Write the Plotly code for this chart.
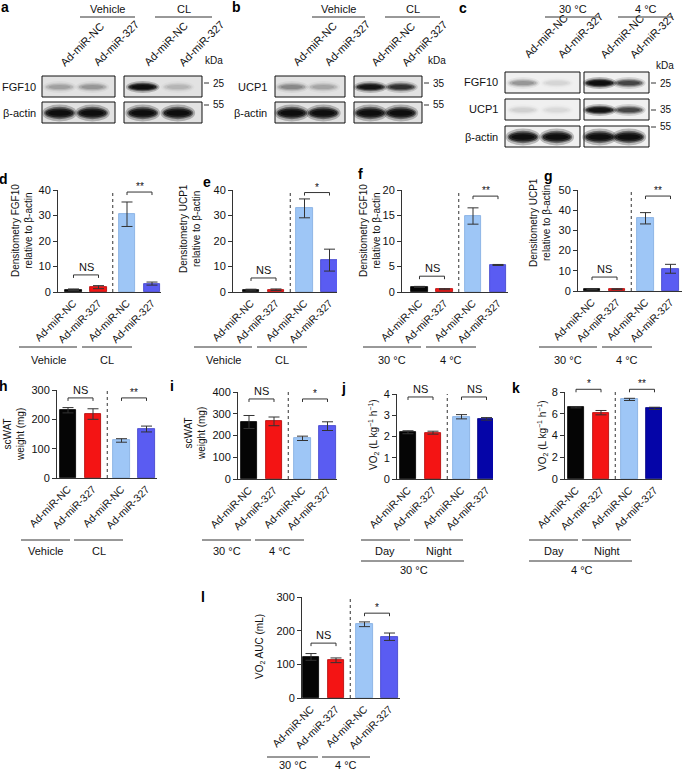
import plotly.graph_objects as go

W, H = 685, 771
FONT = "Liberation Sans, Arial, sans-serif"
INK = "#222222"

# ---------------- data ----------------
BAR_LABELS = ["Ad-miR-NC", "Ad-miR-327", "Ad-miR-NC", "Ad-miR-327"]

d_values = [0.9, 1.9, 30.5, 3.3]
d_errors = [0.3, 0.6, 4.8, 0.6]
e_values = [0.8, 0.9, 32.8, 12.5]
e_errors = [0.3, 0.3, 3.7, 4.3]
f_values = [1.0, 0.55, 14.9, 5.3]
f_errors = [0.1, 0.1, 1.6, 0.1]
g_values = [0.9, 0.9, 36.0, 11.0]
g_errors = [0.2, 0.2, 2.8, 2.2]
h_values = [231, 218, 128, 167]
h_errors = [9, 18, 6, 10]
i_values = [262, 265, 187, 243]
i_errors = [30, 20, 10, 20]
j_values = [2.20, 2.18, 2.93, 2.83]
j_errors = [0.07, 0.07, 0.10, 0.06]
k_values = [6.60, 6.10, 7.32, 6.50]
k_errors = [0.06, 0.20, 0.10, 0.10]
l_values = [122, 112, 219, 182]
l_errors = [10, 7, 7, 11]

# significance: (label for groups 1, y), (label for groups 2, y)
d_sig = [("NS", 6.7), ("**", 39.2)]
e_sig = [("NS", 5.5), ("*", 39.0)]
f_sig = [("NS", 3.1), ("**", 18.8)]
g_sig = [("NS", 6.9), ("**", 47.0)]
h_sig = [("NS", 273), ("**", 273)]
i_sig = [("NS", 368), ("*", 368)]
j_sig = [("NS", 3.86), ("NS", 3.86)]
k_sig = [("*", 8.25), ("**", 8.25)]
l_sig = [("NS", 163), ("*", 252)]

VEH_CL = ["Vehicle", "CL"]
TEMPS = ["30 °C", "4 °C"]
DAY_NIGHT = ["Day", "Night"]

# western blots: row names, band intensities (0..1) per lane, kDa markers
a_rows = ["FGF10", "β-actin"]
a_bands = [[0.15, 0.18, 0.95, 0.10], [0.97, 0.97, 0.98, 0.97]]
a_kda = ["25", "55"]
b_rows = ["UCP1", "β-actin"]
b_bands = [[0.22, 0.14, 0.85, 0.6], [0.97, 0.97, 0.97, 0.97]]
b_kda = ["35", "55"]
c_rows = ["FGF10", "UCP1", "β-actin"]
c_bands = [[0.20, 0.05, 0.97, 0.5], [0.06, 0.04, 0.9, 0.5], [0.96, 0.96, 0.96, 0.96]]
c_kda = ["25", "35", "55"]

# ---------------- styling ----------------
BLACK, RED, LIGHT, BLUE, NAVY = "#050505", "#f41414", "#9ec6f6", "#5a5cf2", "#0505a8"
COL_STD = [BLACK, RED, LIGHT, BLUE]
COL_NAVY = [BLACK, RED, LIGHT, NAVY]
EDGE_STD = ["#000000", "#b00000", "#7fa9e0", "#3c3ec8"]
EDGE_NAVY = ["#000000", "#b00000", "#7fa9e0", "#000080"]
X_POS = [0, 1, 2.14, 3.14]
UNIT = 25.0  # px per x unit
BAR_W = 0.66


def PX(x):
    return x / W


def PY(y):
    return 1 - y / H


VO2 = "VO<sub>2</sub> (L kg<sup>−1</sup> h<sup>−1</sup>)"

PANELS = [
    dict(L="d", v=d_values, e=d_errors, c=COL_STD, ec=EDGE_STD, ymax=40, dt=10, sig=d_sig, grp=VEH_CL, top=None,
         title="Densitometry FGF10<br>relative to β-actin", tpos=(22, 231),
         x0=58, w=103, yt=190, yb=292, xlo=-0.62, row=1, lpos=(4, 179)),
    dict(L="e", v=e_values, e=e_errors, c=COL_STD, ec=EDGE_STD, ymax=40, dt=10, sig=e_sig, grp=VEH_CL, top=None,
         title="Densitometry UCP1<br>relative to β-actin", tpos=(190, 229),
         x0=233, w=104, yt=190, yb=292, xlo=-0.72, row=1, lpos=(207, 182)),
    dict(L="f", v=f_values, e=f_errors, c=COL_STD, ec=EDGE_STD, ymax=20, dt=5, sig=f_sig, grp=TEMPS, top=None,
         title="Densitometry FGF10<br>relative to β-actin", tpos=(370, 231),
         x0=402, w=106, yt=190, yb=292, xlo=-0.70, row=1, lpos=(360, 174)),
    dict(L="g", v=g_values, e=g_errors, c=COL_STD, ec=EDGE_STD, ymax=50, dt=10, sig=g_sig, grp=TEMPS, top=None,
         title="Densitometry UCP1<br>relative to β-actin", tpos=(540, 223),
         x0=578, w=104, yt=190, yb=291, xlo=-0.56, row=1, lpos=(548, 176)),
    dict(L="h", v=h_values, e=h_errors, c=COL_STD, ec=EDGE_STD, ymax=300, dt=100, sig=h_sig, grp=VEH_CL, top=None,
         title="scWAT<br>weight (mg)", tpos=(14, 435),
         x0=57, w=100, yt=390, yb=478, xlo=-0.44, row=2, lpos=(4, 386)),
    dict(L="i", v=i_values, e=i_errors, c=COL_STD, ec=EDGE_STD, ymax=400, dt=100, sig=i_sig, grp=TEMPS, top=None,
         title="scWAT<br>weight (mg)", tpos=(195, 434),
         x0=238, w=99, yt=392, yb=479, xlo=-0.44, row=2, lpos=(172, 386)),
    dict(L="j", v=j_values, e=j_errors, c=COL_NAVY, ec=EDGE_NAVY, ymax=4, dt=1, sig=j_sig, grp=DAY_NIGHT, top=TEMPS[0],
         title=VO2, tpos=(373, 435),
         x0=397, w=96, yt=394, yb=479, xlo=-0.44, row=2, lpos=(343, 388)),
    dict(L="k", v=k_values, e=k_errors, c=COL_NAVY, ec=EDGE_NAVY, ymax=8, dt=2, sig=k_sig, grp=DAY_NIGHT, top=TEMPS[1],
         title=VO2, tpos=(542, 436),
         x0=565, w=97, yt=392, yb=479, xlo=-0.44, row=2, lpos=(516, 388)),
    dict(L="l", v=l_values, e=l_errors, c=COL_STD, ec=EDGE_STD, ymax=300, dt=100, sig=l_sig, grp=TEMPS, top=None,
         title="VO<sub>2</sub> AUC (mL)", tpos=(260, 647),
         x0=302, w=98, yt=597, yb=698, xlo=-0.36, row=3, lpos=(203, 597)),
]

fig = go.Figure()
shapes, annos = [], []
layout = {}


def line_px(x0, y0, x1, y1, color=INK, width=1):
    shapes.append(dict(type="line", xref="paper", yref="paper", x0=PX(x0), y0=PY(y0),
                       x1=PX(x1), y1=PY(y1), line=dict(color=color, width=width)))


def text_px(x, y, t, size=10, xanchor="center", yanchor="middle", angle=0, bold=False, color="#111"):
    annos.append(dict(xref="paper", yref="paper", x=PX(x), y=PY(y), text=("<b>%s</b>" % t) if bold else t,
                      showarrow=False, xanchor=xanchor, yanchor=yanchor, textangle=angle,
                      font=dict(family=FONT, size=size, color=color)))


for n, p in enumerate(PANELS, start=1):
    s = "" if n == 1 else str(n)
    xlo = p["xlo"]
    xhi = xlo + p["w"] / UNIT
    fig.add_trace(go.Bar(
        x=X_POS, y=p["v"], width=BAR_W, xaxis="x" + s, yaxis="y" + s, showlegend=False,
        marker=dict(color=p["c"], line=dict(width=0.8, color=p["ec"])),
        error_y=dict(type="data", array=p["e"], color="#333", thickness=1, width=5.5),
    ))
    layout["xaxis" + s] = dict(
        domain=[PX(p["x0"]), PX(p["x0"] + p["w"])], range=[xlo, xhi], anchor="y" + s,
        showline=True, linecolor="#333", linewidth=1, ticks="", showgrid=False, zeroline=False,
        tickmode="array", tickvals=X_POS, ticktext=BAR_LABELS, tickangle=-45,
        tickfont=dict(family=FONT, size=10.5, color="#111"), automargin=False, fixedrange=True)
    layout["yaxis" + s] = dict(
        domain=[PY(p["yb"]), PY(p["yt"])], range=[0, p["ymax"]], dtick=p["dt"], anchor="x" + s,
        showline=True, linecolor="#333", linewidth=1, ticks="outside", ticklen=4, tickwidth=1,
        tickcolor="#333", showgrid=False, zeroline=False,
        tickfont=dict(family=FONT, size=11, color="#111"), automargin=False, fixedrange=True)

    def dx(v):
        return (v - xlo) / (xhi - xlo)

    # dotted separator between the two groups
    mid = (X_POS[1] + X_POS[2]) / 2
    shapes.append(dict(type="line", xref="x%s domain" % s, yref="y%s domain" % s,
                       x0=dx(mid), x1=dx(mid), y0=0, y1=1,
                       line=dict(color="#333", width=1, dash="dot")))
    # significance brackets
    tick = 3.0 / (p["yb"] - p["yt"])
    for gi, (lab, yv) in enumerate(p["sig"]):
        xa, xb = dx(X_POS[2 * gi]), dx(X_POS[2 * gi + 1])
        yd = yv / p["ymax"]
        shapes.append(dict(type="path", xref="x%s domain" % s, yref="y%s domain" % s,
                           path="M %f,%f L %f,%f L %f,%f L %f,%f" % (xa, yd - tick, xa, yd, xb, yd, xb, yd - tick),
                           line=dict(color="#333", width=1)))
        annos.append(dict(xref="x%s domain" % s, yref="y%s domain" % s, x=(xa + xb) / 2, y=yd,
                          yshift=0 if lab == "NS" else -2,
                          text=lab, showarrow=False, xanchor="center", yanchor="bottom",
                          font=dict(family=FONT, size=11 if lab == "NS" else 10, color="#111")))
    # y title
    text_px(p["tpos"][0], p["tpos"][1], p["title"], size=10, angle=-90)
    # panel letter
    text_px(p["lpos"][0], p["lpos"][1], p["L"], size=14, bold=True, color="#000")
    # group labels underneath
    x0 = p["x0"]
    if p["row"] == 1:
        spans, ly, ty = [(-39, 19), (24, 74)], 347, 360
    elif p["row"] == 2:
        spans, ly, ty = [(-36, 13), (17, 66)], 540, 551
    else:
        spans, ly, ty = [(-35, 16), (20, 68)], 757, 765
    for (a0, a1), lab in zip(spans, p["grp"]):
        line_px(x0 + a0, ly, x0 + a1, ly, color="#333")
        text_px(x0 + (a0 + a1) / 2, ty, lab, size=11)
    if p["top"]:
        line_px(x0 - 36, 561, x0 + 67, 561, color="#333")
        text_px(x0 + 17, 570, p["top"], size=11)


# ---------------- western blots ----------------
def band(cx, cy, w, h, v):
    layers = [(1.12, 1.8, 0.25), (1.0, 1.3, 0.45), (0.9, 0.95, 0.7), (0.74, 0.6, 0.8)]
    for fw, fh, a in layers:
        shapes.append(dict(type="circle", xref="paper", yref="paper",
                           x0=PX(cx - w * fw / 2), x1=PX(cx + w * fw / 2),
                           y0=PY(cy + h * fh / 2), y1=PY(cy - h * fh / 2),
                           fillcolor="#080808", opacity=a * v, line=dict(width=0)))


def blot(letter, lpos, boxes, rows_y, rows, bands, kda, kda_y, kda_pos, headers, head_spans,
         label_x, label_bottom, row_label_x, bg):
    text_px(lpos[0], lpos[1], letter, size=14, bold=True, color="#000")
    lanes = []
    for bx0, bx1 in boxes:
        wdt = bx1 - bx0
        lanes += [bx0 + wdt * 0.24, bx0 + wdt * 0.69]
    for ri, (ry0, ry1) in enumerate(rows_y):
        for bx0, bx1 in boxes:
            shapes.append(dict(type="rect", xref="paper", yref="paper", x0=PX(bx0), x1=PX(bx1),
                               y0=PY(ry1), y1=PY(ry0), fillcolor=bg, line=dict(width=0)))
        actin = rows[ri] == "β-actin"
        hgt = (ry1 - ry0) * (0.45 if actin else 0.32)
        for li, cx in enumerate(lanes):
            band(cx, (ry0 + ry1) / 2 + 0.5, 31 if actin else 30, hgt, bands[ri][li])
        for bx0, bx1 in boxes:
            shapes.append(dict(type="rect", xref="paper", yref="paper", x0=PX(bx0), x1=PX(bx1),
                               y0=PY(ry1), y1=PY(ry0), line=dict(color="#111", width=1)))
        text_px(row_label_x, (ry0 + ry1) / 2, rows[ri], size=11, xanchor="right")
    # kDa markers
    kx = boxes[-1][1]
    text_px(kda_pos[0], kda_pos[1], "kDa", size=10)
    for lab, ky in zip(kda, kda_y):
        line_px(kx + 2, ky, kx + 7, ky, color="#333")
        text_px(kx + 9, ky, lab, size=10, xanchor="left")
    # group headers
    for lab, (h0, h1) in zip(headers, head_spans):
        line_px(h0, 17, h1, 17, color="#333")
        text_px((h0 + h1) / 2, 9, lab, size=11)
    # lane labels
    for li, cx in enumerate(lanes):
        text_px(cx + label_x, label_bottom, BAR_LABELS[li], size=11, angle=-45,
                xanchor="left", yanchor="bottom")


blot("a", (5, 7), [(42, 115), (124, 202)], [(76, 97), (102, 123)], a_rows, a_bands,
     a_kda, [83, 105], (214, 61), VEH_CL, [(80, 135), (155, 212)], -4, 71, 38, "#e2e2e2")
blot("b", (236, 7), [(275, 345), (354, 422)], [(76, 97), (102, 123)], b_rows, b_bands,
     b_kda, [83, 105], (437, 61), VEH_CL, [(312, 365), (385, 440)], -4, 71, 269, "#e2e2e2")
blot("c", (463, 8), [(505, 580), (584, 649)], [(72, 93), (99, 120), (126, 147)], c_rows, c_bands,
     c_kda, [83, 110, 127], (665, 65), TEMPS, [(545, 600), (618, 673)], -4, 63, 500, "#f0f0f0")

layout.update(dict(width=W, height=H, margin=dict(l=0, r=0, t=0, b=0),
                   paper_bgcolor="white", plot_bgcolor="white", template="none",
                   shapes=shapes, annotations=annos, bargap=0,
                   font=dict(family=FONT, size=10, color="#111")))
fig.update_layout(**layout)
fig.write_html("out.html", config={"displayModeBar": False},
               post_script="document.body.style.margin='0px';document.body.style.padding='0px';")
